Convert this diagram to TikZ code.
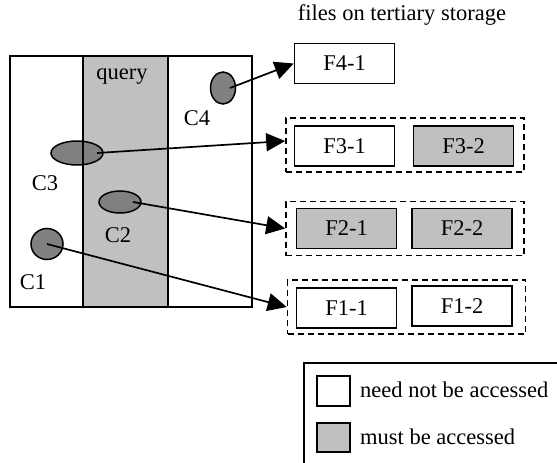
\documentclass[tikz,border=0pt]{standalone}
\usepackage{fontspec}
\setmainfont{Liberation Serif}
\usepackage{tikz}
\usetikzlibrary{arrows.meta, positioning, shapes.geometric}
\usepackage{xcolor}
\definecolor{band}{RGB}{192,192,192}
\definecolor{blob}{RGB}{128,128,128}

\tikzset{
  lbl/.style={font=\fontsize{22.5}{26}\selectfont, inner sep=0pt},
  cluster/.style={ellipse, draw, fill=blob, line width=1.5pt, inner sep=0pt},
  filebox/.style={draw, line width=1.6pt, minimum width=100pt, minimum height=40pt, inner sep=0pt, font=\fontsize{22.5}{26}\selectfont},
  group/.style={draw, dash pattern=on 6pt off 4pt, line width=1.6pt, minimum width=238pt, minimum height=54pt, inner sep=0pt},
  link/.style={line width=1.7pt, -{Triangle[length=19pt, width=18pt]}}
}

\begin{document}
\begin{tikzpicture}[x=1pt, y=-1pt]
  \useasboundingbox (0,0) rectangle (557,463);
  % Data space with the query band
  \fill[band] (83,56) rectangle (168,307);
  % Clusters
  \node[cluster, minimum width=25pt, minimum height=32pt] (c4) at (223,88) {};
  \node[cluster, minimum width=52pt, minimum height=24pt] (c3) at (77,153) {};
  \node[cluster, minimum width=42pt, minimum height=22pt] (c2) at (120,202) {};
  \node[cluster, minimum width=32pt, minimum height=31pt] (c1) at (47,244) {};
  \draw[line width=1.6pt] (10,56) rectangle (252,307);
  \draw[line width=1.6pt] (83,56) -- (83,307);
  \draw[line width=1.6pt] (168,56) -- (168,307);
  \node[lbl] (query) at (122,77) {query};
  \node[lbl] (c4lbl) at (197,118) {C4};
  \node[lbl] (c3lbl) at (45,183) {C3};
  \node[lbl] (c2lbl) at (118,235) {C2};
  \node[lbl] (c1lbl) at (33,282) {C1};
  % Files on tertiary storage
  \node[lbl] (title) at (402,15) {files on tertiary storage};
  \node[filebox] (f41) at (344.5,63.5) {F4-1};
  \node[group] (g3) at (405,145) {};
  \node[filebox] (f31) at (344.5,146) {F3-1};
  \node[filebox, fill=band] (f32) at (463.5,146) {F3-2};
  \node[group] (g2) at (405,228.5) {};
  \node[filebox, fill=band] (f21) at (346.5,228.5) {F2-1};
  \node[filebox, fill=band] (f22) at (462,228.5) {F2-2};
  \node[group] (g1) at (406.5,307) {};
  \node[filebox] (f11) at (346.5,308) {F1-1};
  \node[filebox] (f12) at (462,306) {F1-2};
  % Cluster to file links
  \draw[link] ([xshift=7pt]c4.center) -- (f41.west);
  \draw[link] ([xshift=20pt]c3.center) -- ([yshift=4pt]g3.west);
  \draw[link] ([xshift=13pt]c2.center) -- (g2.west);
  \draw[link] (c1.center) -- (g1.west);
  % Legend
  \draw[line width=1.6pt] (557,363) -- (304,363) -- (304,463);
  \draw[line width=1.6pt] (317,376) rectangle (350,406);
  \draw[line width=1.6pt, fill=band] (317,423) rectangle (350,452);
  \node[lbl, anchor=west] (keywhite) at (360,390) {need not be accessed};
  \node[lbl, anchor=west] (keygray) at (360,437) {must be accessed};
\end{tikzpicture}
\end{document}
